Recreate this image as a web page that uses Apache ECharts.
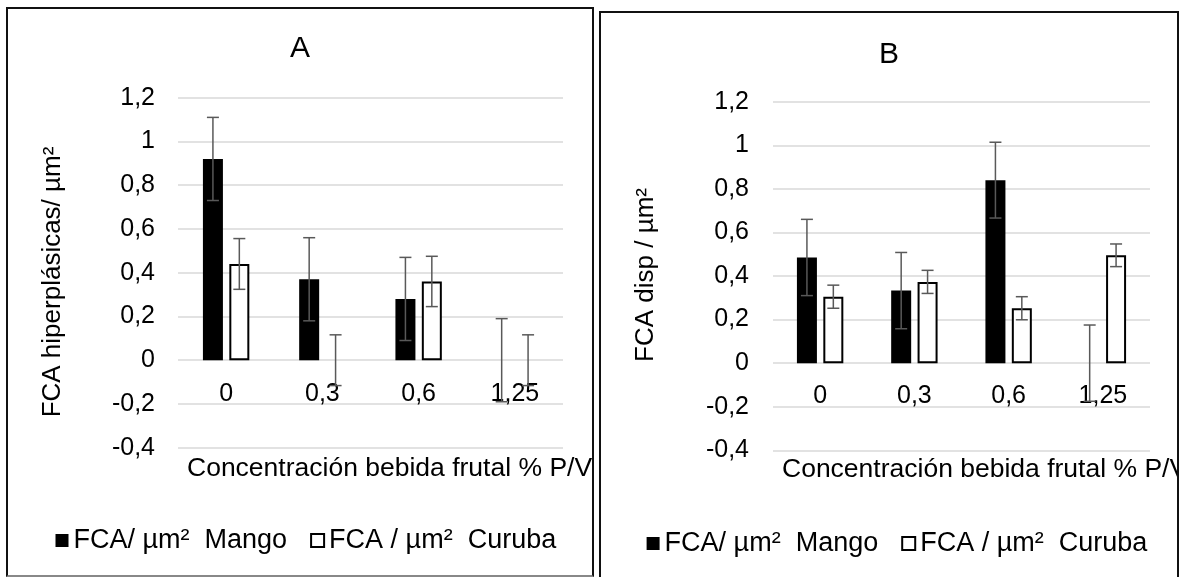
<!DOCTYPE html>
<html>
<head>
<meta charset="utf-8">
<title>FCA</title>
<script src="https://cdn.jsdelivr.net/npm/echarts@6/dist/echarts.min.js"></script>
<style>
html,body{margin:0;padding:0;background:#fff;overflow:hidden;width:1182px;height:577px;}
.panel{position:absolute;border:2px solid #111;overflow:hidden;background:#fff;}
#chartA{left:6px;top:7px;width:584px;height:566px;border-bottom-color:#888;}
#chartB{left:599px;top:11px;width:576px;height:570px;}
</style>
</head>
<body>
<div id="chartA" class="panel"></div>
<div id="chartB" class="panel"></div>
<script>
var categories=['0','0,3','0,6','1,25'];
var yMin=-0.4, yMax=1.2, yStep=0.2;
var legendNames=['FCA/ µm²  Mango','FCA / µm²  Curuba'];
var xTitle='Concentración bebida frutal % P/V';

// panel A
var mangoA=[0.92,0.37,0.28,0];
var mangoErrA=[0.19,0.19,0.19,0.19];
var curubaA=[0.44,0,0.36,0];
var curubaErrA=[0.116,0.116,0.115,0.116];

// panel B
var mangoB=[0.485,0.333,0.84,0];
var mangoErrB=[0.175,0.175,0.174,0.175];
var curubaB=[0.305,0.373,0.252,0.495];
var curubaErrB=[0.053,0.053,0.053,0.052];

var FONT='Arial, "Liberation Sans", sans-serif';
var barW=20, gapRatio=0.32;
var errOff=(barW+barW*gapRatio)/2;

function fmt(v){
    return String(+v.toFixed(1)).replace('.',',');
}

function errorRender(offset){
    return function(params,api){
        var cat=api.value(0), val=api.value(1), err=api.value(2);
        var x=api.coord([cat,val])[0]+offset;
        var yHi=api.coord([cat,val+err])[1];
        var yLo=api.coord([cat,val-err])[1];
        var style={stroke:'#595959',lineWidth:1.5};
        return {type:'group',children:[
            {type:'line',shape:{x1:x,y1:yHi,x2:x,y2:yLo},style:style},
            {type:'line',shape:{x1:x-6,y1:yHi,x2:x+6,y2:yHi},style:style},
            {type:'line',shape:{x1:x-6,y1:yLo,x2:x+6,y2:yLo},style:style}
        ]};
    };
}

function errData(vals,errs){
    var out=[];
    for(var i=0;i<vals.length;i++){
        out.push([i,vals[i],errs[i]]);
    }
    return out;
}

function echart_panel(id,cfg){
    var myChart=echarts.init(document.getElementById(id));
    var curubaData=cfg.curuba.map(function(v){
        // a zero bar would leave only its outline on the axis
        return v===0 ? {value:v,itemStyle:{borderWidth:0}} : v;
    });
    var option={
        animation:false,
        textStyle:{fontFamily:FONT,color:'#000'},
        title:{
            text:cfg.title,left:'center',top:cfg.titleTop,padding:0,
            textStyle:{fontSize:30,fontWeight:'normal',color:'#000',fontFamily:FONT}
        },
        legend:{
            data:legendNames,left:cfg.legendLeft,top:cfg.legendTop,padding:0,
            itemWidth:13,itemHeight:13,itemGap:23,icon:'rect',
            textStyle:{fontSize:27,color:'#000',fontFamily:FONT}
        },
        grid:cfg.grid,
        xAxis:{
            type:'category',data:categories,position:'bottom',
            axisLine:{show:false},
            axisTick:{show:false},
            // labels sit just under the zero line, as in the original
            axisLabel:{margin:cfg.xLabelMargin,fontSize:25,color:'#000',fontFamily:FONT}
        },
        yAxis:{
            type:'value',min:yMin,max:yMax,interval:yStep,
            axisLine:{show:false},axisTick:{show:false},
            axisLabel:{margin:cfg.labelMargin,fontSize:25,color:'#000',fontFamily:FONT,formatter:fmt},
            splitLine:{lineStyle:{color:'#d9d9d9',width:1.5}}
        },
        graphic:[{
            type:'text',left:cfg.xNameX,top:cfg.xNameY,
            style:{text:xTitle,fontSize:26.5,fill:'#000',fontFamily:FONT}
        },{
            type:'text',x:cfg.yNameX,y:cfg.yNameY,rotation:Math.PI/2,
            style:{text:cfg.yName,fontSize:26,fill:'#000',fontFamily:FONT,align:'center',verticalAlign:'middle'}
        }],
        series:[{
            name:legendNames[0],type:'bar',barWidth:barW,barGap:(gapRatio*100)+'%',
            itemStyle:{color:'#000'},
            data:cfg.mango
        },{
            name:legendNames[1],type:'bar',barWidth:barW,
            itemStyle:{color:'#fff',borderColor:'#000',borderWidth:2},
            data:curubaData
        },{
            name:'errMango',type:'custom',z:5,
            renderItem:errorRender(-errOff),encode:{x:0,y:1},
            data:errData(cfg.mango,cfg.mangoErr)
        },{
            name:'errCuruba',type:'custom',z:5,
            renderItem:errorRender(errOff),encode:{x:0,y:1},
            data:errData(cfg.curuba,cfg.curubaErr)
        }]
    };
    myChart.setOption(option);
}

echart_panel('chartA',{
    title:'A',titleTop:25,
    yName:'FCA hiperplásicas/ µm²',yNameX:45,yNameY:273,labelMargin:23,
    grid:{left:170,top:88.7,width:385,height:350},
    xLabelMargin:-66.5,
    legendLeft:47.5,legendTop:518,
    xNameX:179,xNameY:446,
    mango:mangoA,mangoErr:mangoErrA,curuba:curubaA,curubaErr:curubaErrA
});
echart_panel('chartB',{
    title:'B',titleTop:27,
    yName:'FCA disp / µm²',yNameX:45,yNameY:262,labelMargin:24,
    grid:{left:172,top:88.7,width:377,height:348.6},
    xLabelMargin:-66.3,
    legendLeft:45.6,legendTop:517,
    xNameX:181,xNameY:443,
    mango:mangoB,mangoErr:mangoErrB,curuba:curubaB,curubaErr:curubaErrB
});
</script>
</body>
</html>
